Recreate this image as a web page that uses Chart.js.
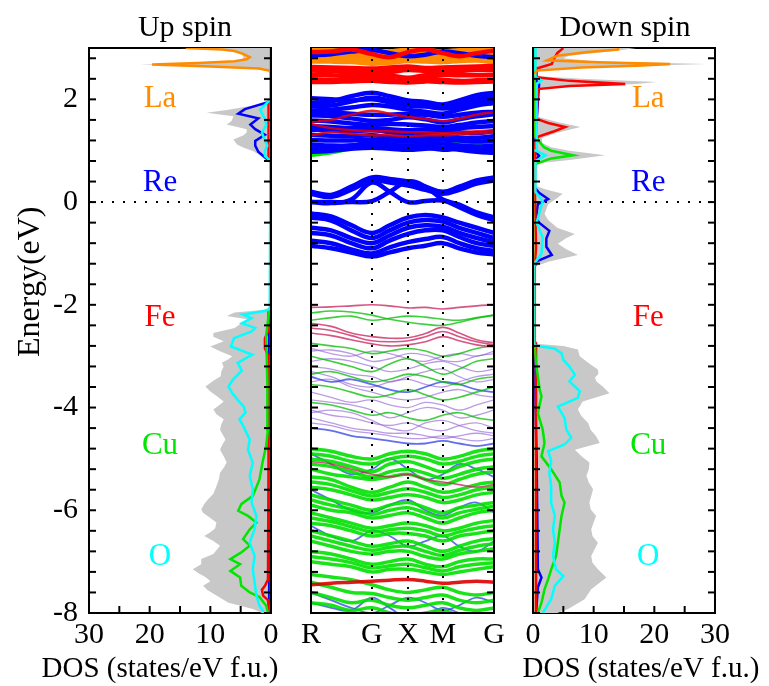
<!DOCTYPE html>
<html>
<head>
<meta charset="utf-8">
<script src="https://cdn.jsdelivr.net/npm/chart.js"></script>
<style>
  body { margin: 0; background: #fff; }
  #wrap { position: relative; width: 769px; height: 686px; }
  canvas { position: absolute; top: 0; }
</style>
</head>
<body>
<div id="wrap">
  <canvas id="upDos" width="290" height="686" style="left:0"></canvas>
  <canvas id="bands" width="226" height="686" style="left:290px"></canvas>
  <canvas id="dnDos" width="253" height="686" style="left:516px"></canvas>
</div>
<script>
// ---------------- data ----------------
const energyMin = -8;
const energyMax = 3;

const elements = ['La', 'Re', 'Fe', 'Cu', 'O'];
const elementColors = ['#ff8c00', '#0000ff', '#ff0000', '#00e600', '#00ffff'];

// k path of the band panel (fraction of the path length)
const kPath = [0, 0.11, 0.22, 0.333, 0.43, 0.53, 0.625, 0.72, 0.81, 0.905, 1.0];
const kTicks = [0, 0.333, 0.53, 0.72, 1.0];
const kLabels = ['R', 'G', 'X', 'M', 'G'];

// DOS, [energy (eV), states/eV f.u.]
const upTotal = [[-8.0,1.5],[-7.92,3.0],[-7.8,7.0],[-7.66,9.0],[-7.55,10.5],[-7.47,11.2],[-7.38,10.0],[-7.31,10.7],[-7.22,12.0],[-7.15,12.9],[-7.05,11.5],[-6.95,11.5],[-6.85,9.5],[-6.69,8.4],[-6.6,9.5],[-6.5,11.0],[-6.43,10.0],[-6.35,9.2],[-6.24,9.0],[-6.15,10.0],[-6.05,11.2],[-5.98,11.5],[-5.88,11.0],[-5.79,10.4],[-5.68,9.5],[-5.53,9.0],[-5.4,8.6],[-5.27,8.4],[-5.17,7.8],[-5.07,7.3],[-4.95,7.8],[-4.82,8.4],[-4.72,8.0],[-4.62,7.5],[-4.52,8.0],[-4.43,8.4],[-4.33,8.2],[-4.23,7.8],[-4.13,9.0],[-4.04,9.5],[-3.95,8.5],[-3.88,7.8],[-3.78,8.9],[-3.69,10.0],[-3.59,10.8],[-3.48,9.5],[-3.39,8.3],[-3.3,8.2],[-3.2,7.8],[-3.13,8.1],[-3.06,7.0],[-3.0,6.4],[-2.9,8.5],[-2.81,10.0],[-2.71,7.8],[-2.62,9.5],[-2.55,9.5],[-2.45,6.0],[-2.37,5.0],[-2.29,3.4],[-2.22,7.3],[-2.15,6.0],[-2.1,1.5],[-2.06,0.0],[0.78,0.0],[0.83,1.0],[0.92,2.0],[0.99,2.9],[1.06,4.5],[1.12,5.6],[1.22,6.2],[1.3,4.5],[1.36,4.0],[1.42,4.0],[1.51,7.3],[1.58,6.5],[1.67,6.2],[1.74,10.6],[1.8,7.0],[1.88,3.0],[1.97,0.5],[2.05,0.0],[2.5,0.0],[2.55,0.5],[2.6,3.0],[2.65,14.0],[2.68,21.6],[2.71,12.0],[2.75,5.0],[2.82,4.5],[2.9,5.0],[2.97,9.0],[3.0,15.0]];
const upLa = [[-8.0,0.0],[2.5,0.0],[2.56,0.3],[2.6,2.0],[2.64,10.0],[2.68,19.6],[2.71,12.0],[2.74,6.0],[2.78,4.0],[2.82,3.5],[2.88,4.5],[2.94,6.0],[2.97,8.0],[3.0,14.0]];
const upRe = [[-8.0,0.3],[-2.1,0.3],[-2.05,0.0],[0.78,0.0],[0.8,0.3],[0.87,1.0],[0.98,2.1],[1.1,2.6],[1.19,2.6],[1.31,1.0],[1.42,2.6],[1.51,3.4],[1.63,2.1],[1.72,5.4],[1.81,4.3],[1.94,0.6],[1.98,0.0],[3.0,0.0]];
const upFe = [[-8.0,0.3],[-7.75,0.5],[-7.66,1.3],[-7.55,1.5],[-7.47,1.0],[-7.35,0.5],[-5.0,0.4],[-3.0,0.4],[-2.85,1.0],[-2.65,1.0],[-2.5,0.4],[-2.1,0.4],[-2.05,0.0],[0.8,0.0],[0.85,0.4],[1.9,0.4],[1.95,0.0],[3.0,0.0]];
const upCu = [[-8.0,0.5],[-7.86,0.8],[-7.69,1.9],[-7.6,3.5],[-7.47,4.9],[-7.31,5.1],[-7.18,6.7],[-7.05,5.1],[-6.95,6.7],[-6.82,4.9],[-6.69,3.5],[-6.56,4.6],[-6.37,3.5],[-6.24,2.4],[-6.11,3.8],[-6.01,5.4],[-5.88,4.9],[-5.72,3.0],[-5.4,1.9],[-5.07,1.4],[-4.75,0.8],[-4.43,0.5],[-3.5,0.6],[-2.6,0.8],[-2.3,0.5],[-2.1,0.3],[-2.05,0.0],[3.0,0.0]];
const upO = [[-8.0,1.1],[-7.86,1.9],[-7.66,2.4],[-7.41,2.7],[-7.15,3.0],[-6.89,2.7],[-6.63,3.5],[-6.37,2.7],[-6.11,2.4],[-5.85,3.2],[-5.59,3.0],[-5.33,3.5],[-5.07,3.0],[-4.82,3.8],[-4.62,3.5],[-4.43,4.3],[-4.35,4.6],[-4.23,5.2],[-4.1,4.2],[-3.98,4.5],[-3.85,5.5],[-3.72,6.4],[-3.59,7.0],[-3.46,6.3],[-3.28,4.8],[-3.13,5.5],[-2.97,3.1],[-2.81,6.6],[-2.65,6.1],[-2.52,3.2],[-2.45,2.6],[-2.36,4.8],[-2.26,3.2],[-2.19,4.6],[-2.12,1.0],[-2.08,0.2],[0.8,0.1],[0.9,1.0],[1.0,1.0],[1.1,0.6],[1.2,1.0],[1.35,1.5],[1.5,0.8],[1.62,1.0],[1.8,1.8],[1.95,0.5],[2.0,0.1],[3.0,0.1]];

const dnTotal = [[-8.0,4.0],[-7.92,5.8],[-7.73,8.5],[-7.54,9.6],[-7.31,12.1],[-7.15,10.7],[-7.02,9.8],[-6.89,9.6],[-6.75,10.2],[-6.63,10.7],[-6.5,9.8],[-6.37,9.6],[-6.24,10.0],[-6.11,10.4],[-5.98,9.5],[-5.85,9.3],[-5.72,9.6],[-5.59,9.9],[-5.46,9.2],[-5.33,8.8],[-5.2,9.2],[-5.07,9.3],[-4.95,8.0],[-4.82,6.9],[-4.69,11.0],[-4.56,10.4],[-4.43,9.5],[-4.3,9.1],[-4.17,8.0],[-4.04,7.4],[-3.88,8.2],[-3.72,12.6],[-3.59,11.5],[-3.5,10.5],[-3.42,10.2],[-3.34,10.8],[-3.26,10.7],[-3.13,9.1],[-3.0,7.7],[-2.87,7.4],[-2.8,5.0],[-2.76,0.5],[-2.72,0.0],[-1.3,0.0],[-1.25,0.5],[-1.16,2.5],[-1.03,7.4],[-0.92,5.5],[-0.81,4.1],[-0.7,5.5],[-0.62,6.9],[-0.5,4.0],[-0.35,2.5],[-0.23,1.9],[-0.04,2.5],[0.08,4.0],[0.16,4.9],[0.25,2.0],[0.32,0.3],[0.36,0.0],[0.7,0.0],[0.75,0.6],[0.82,6.0],[0.91,11.9],[1.0,6.0],[1.07,3.0],[1.15,1.5],[1.25,1.5],[1.35,4.0],[1.46,7.8],[1.56,4.0],[1.66,0.8],[1.75,0.5],[2.15,0.5],[2.22,2.0],[2.3,17.0],[2.34,20.4],[2.4,8.0],[2.45,1.0],[2.52,0.5],[2.58,2.0],[2.64,15.0],[2.69,28.6],[2.74,10.0],[2.8,5.0],[2.85,6.0],[2.9,10.0],[2.95,14.0],[3.0,17.0]];
const dnLa = [[-8.0,0.0],[2.5,0.0],[2.56,0.7],[2.62,8.0],[2.66,18.0],[2.69,22.6],[2.72,12.0],[2.76,2.3],[2.85,4.0],[2.92,9.0],[2.97,14.0],[3.0,14.0]];
const dnRe = [[-8.0,0.5],[-7.5,0.8],[-7.31,1.4],[-7.15,0.8],[-5.0,0.6],[-4.0,0.4],[-2.8,0.3],[-1.3,0.2],[-1.16,0.5],[-1.03,3.1],[-0.87,2.2],[-0.71,2.2],[-0.56,2.7],[-0.4,1.0],[-0.3,0.5],[-0.04,0.8],[0.06,2.5],[0.18,1.0],[0.28,0.3],[0.8,0.3],[0.9,1.0],[1.0,0.3],[1.4,0.5],[2.3,1.0],[2.4,0.3],[3.0,0.3]];
const dnFe = [[-8.0,0.5],[-2.75,0.5],[-2.7,0.2],[-1.2,0.3],[-0.9,0.5],[0.3,0.3],[1.15,0.4],[1.27,0.8],[1.38,3.5],[1.46,5.3],[1.54,2.5],[1.62,0.6],[2.2,0.8],[2.26,6.0],[2.3,15.2],[2.36,6.0],[2.43,0.6],[2.6,0.6],[2.69,3.1],[2.8,3.5],[2.9,4.0],[3.0,5.0]];
const dnCu = [[-8.0,0.8],[-7.8,1.4],[-7.54,1.9],[-7.34,2.5],[-7.15,3.0],[-6.89,3.8],[-6.63,4.1],[-6.37,4.4],[-6.11,4.7],[-5.85,5.2],[-5.72,4.7],[-5.46,4.4],[-5.2,3.0],[-4.95,1.4],[-4.69,1.9],[-4.43,1.6],[-4.11,0.8],[-3.78,1.4],[-3.65,1.1],[-3.13,0.5],[-2.81,0.3],[-2.75,0.0],[0.7,0.0],[0.75,0.6],[0.85,3.0],[0.91,6.6],[1.0,3.0],[1.07,1.8],[1.2,0.9],[1.3,0.3],[3.0,0.3]];
const dnO = [[-8.0,1.6],[-7.73,3.0],[-7.47,3.6],[-7.28,5.0],[-7.15,3.8],[-6.89,3.3],[-6.63,3.6],[-6.37,3.3],[-6.11,3.6],[-5.85,3.0],[-5.53,3.0],[-5.27,2.7],[-5.04,3.0],[-4.85,2.5],[-4.72,5.2],[-4.59,6.3],[-4.43,5.5],[-4.2,5.2],[-3.98,4.1],[-3.81,7.4],[-3.68,7.7],[-3.49,6.0],[-3.36,6.9],[-3.2,6.0],[-3.07,5.0],[-2.94,4.7],[-2.85,3.5],[-2.8,0.5],[-2.76,0.2],[-1.2,0.2],[-1.0,1.4],[-0.69,1.6],[-0.4,0.6],[0.02,1.6],[0.2,0.4],[0.8,0.4],[0.91,2.1],[1.0,0.5],[2.3,0.6],[2.37,1.4],[2.44,0.4],[3.0,0.4]];

// bands, energies (eV) at the kPath points
const laBands = [
  [2.96,2.95,2.93,2.9,2.93,2.96,2.95,2.93,2.95,2.96,2.97],
  [2.92,2.9,2.88,2.84,2.88,2.92,2.9,2.88,2.91,2.93,2.94],
  [2.88,2.87,2.84,2.8,2.84,2.88,2.87,2.85,2.87,2.89,2.9],
  [2.8,2.8,2.78,2.74,2.77,2.8,2.79,2.78,2.8,2.82,2.8],
  [2.78,2.78,2.76,2.72,2.75,2.78,2.77,2.76,2.78,2.8,2.78],
  [2.74,2.74,2.73,2.7,2.72,2.75,2.74,2.73,2.75,2.76,2.73]
];
const feBands = [
  [2.92,2.93,2.97,2.88,2.82,2.92,2.97,2.9,2.84,2.9,2.95],
  [2.63,2.62,2.61,2.6,2.62,2.64,2.61,2.62,2.63,2.64,2.65],
  [2.58,2.6,2.58,2.56,2.58,2.6,2.58,2.58,2.6,2.6,2.6],
  [2.56,2.55,2.52,2.5,2.53,2.57,2.55,2.52,2.55,2.57,2.57],
  [2.48,2.47,2.45,2.44,2.46,2.42,2.47,2.48,2.47,2.47,2.48],
  [2.39,2.38,2.38,2.4,2.38,2.36,2.4,2.38,2.36,2.37,2.38],
  [2.34,2.34,2.35,2.36,2.34,2.33,2.35,2.34,2.33,2.34,2.35]
];
const feMid = [
  [1.56,1.6,1.7,1.78,1.72,1.66,1.62,1.58,1.62,1.7,1.75],
  [1.52,1.44,1.4,1.38,1.38,1.36,1.36,1.34,1.36,1.38,1.4],
  [1.3,1.36,1.33,1.3,1.3,1.28,1.3,1.3,1.32,1.34,1.35]
];
const reBands = [
  [2.86,2.88,2.93,2.96,2.9,2.84,2.87,2.93,2.9,2.85,2.82],
  [1.92,1.96,2.06,2.13,2.06,1.98,1.95,1.9,1.98,2.08,2.13],
  [2.02,2.0,1.98,2.0,1.94,1.88,1.86,1.82,1.86,1.94,2.0],
  [1.86,1.88,1.96,2.03,1.98,1.91,1.88,1.84,1.91,2.0,2.06],
  [1.78,1.8,1.84,1.89,1.86,1.8,1.76,1.72,1.8,1.88,1.93],
  [1.74,1.74,1.72,1.7,1.7,1.72,1.7,1.66,1.7,1.74,1.76],
  [1.69,1.67,1.63,1.58,1.6,1.65,1.61,1.55,1.61,1.67,1.71],
  [1.59,1.57,1.53,1.5,1.52,1.51,1.49,1.46,1.5,1.55,1.58],
  [1.48,1.46,1.44,1.44,1.42,1.4,1.42,1.42,1.44,1.46,1.48],
  [1.41,1.4,1.38,1.4,1.36,1.32,1.34,1.38,1.36,1.34,1.38],
  [1.31,1.29,1.28,1.3,1.26,1.24,1.26,1.28,1.26,1.25,1.28],
  [1.21,1.2,1.2,1.22,1.2,1.18,1.2,1.22,1.2,1.18,1.2],
  [1.12,1.1,1.1,1.12,1.1,1.1,1.12,1.14,1.1,1.08,1.1],
  [1.04,1.06,1.1,1.16,1.12,1.08,1.06,1.02,1.04,1.04,1.02],
  [0.98,1.0,1.04,1.06,1.04,1.02,1.04,1.06,1.02,0.98,0.96],
  [0.2,0.14,0.3,0.48,0.45,0.4,0.3,0.2,0.3,0.42,0.48],
  [0.16,0.1,0.24,0.42,0.38,0.32,0.24,0.16,0.24,0.36,0.42],
  [0.0,0.0,0.0,0.02,0.2,0.4,0.3,0.05,-0.05,-0.2,-0.3],
  [0.0,-0.02,0.05,0.38,0.2,0.0,0.02,0.03,-0.1,-0.25,-0.35],
  [-0.22,-0.28,-0.45,-0.6,-0.45,-0.3,-0.25,-0.3,-0.4,-0.5,-0.6],
  [-0.3,-0.36,-0.55,-0.7,-0.55,-0.4,-0.35,-0.38,-0.5,-0.6,-0.7],
  [-0.5,-0.55,-0.7,-0.8,-0.65,-0.5,-0.45,-0.48,-0.6,-0.7,-0.78],
  [-0.6,-0.65,-0.8,-0.9,-0.75,-0.62,-0.55,-0.55,-0.68,-0.8,-0.85],
  [-0.75,-0.8,-0.92,-1.0,-0.88,-0.78,-0.72,-0.68,-0.8,-0.9,-0.95],
  [-0.85,-0.9,-0.98,-1.06,-0.98,-0.9,-0.85,-0.8,-0.9,-0.98,-1.02]
];
const cuBands = [
  [0.92,0.97,1.05,1.1,1.12,1.12,1.1,1.08,1.1,1.05,1.0],
  [0.96,1.01,1.08,1.14,1.16,1.15,1.14,1.12,1.13,1.12,1.1]
];
const feValence = [
  [-2.05,-2.04,-2.02,-2.0,-2.02,-2.06,-2.05,-2.08,-2.05,-2.02,-2.0],
  [-2.36,-2.42,-2.55,-2.62,-2.65,-2.64,-2.56,-2.44,-2.55,-2.68,-2.74],
  [-2.45,-2.5,-2.6,-2.7,-2.72,-2.7,-2.62,-2.52,-2.62,-2.72,-2.78],
  [-2.55,-2.6,-2.68,-2.76,-2.8,-2.78,-2.72,-2.62,-2.7,-2.78,-2.82],
  [-5.05,-5.1,-5.2,-5.3,-5.35,-5.3,-5.4,-5.45,-5.5,-5.55,-5.5]
];
const feDeep = [
  [-7.45,-7.42,-7.4,-7.38,-7.36,-7.35,-7.38,-7.42,-7.4,-7.38,-7.4]
];
const cuValence = [
  [-2.16,-2.12,-2.14,-2.2,-2.28,-2.34,-2.38,-2.4,-2.34,-2.26,-2.2],
  [-2.3,-2.25,-2.22,-2.3,-2.26,-2.22,-2.24,-2.28,-2.3,-2.25,-2.2],
  [-2.75,-2.8,-2.85,-2.95,-2.9,-2.85,-2.9,-3.0,-2.95,-2.85,-2.8],
  [-3.0,-3.1,-3.2,-3.3,-3.15,-3.05,-3.2,-3.35,-3.25,-3.1,-3.05],
  [-3.35,-3.3,-3.4,-3.5,-3.45,-3.35,-3.4,-3.5,-3.55,-3.45,-3.4],
  [-3.55,-3.6,-3.7,-3.8,-3.75,-3.65,-3.75,-3.85,-3.8,-3.7,-3.6],
  [-3.9,-3.95,-4.05,-4.15,-4.1,-4.2,-4.25,-4.15,-4.1,-4.2,-4.25]
];
const mixValence = [
  [-2.85,-2.95,-3.0,-2.9,-2.95,-3.05,-3.1,-3.0,-2.95,-3.0,-2.9],
  [-2.9,-2.88,-2.95,-3.1,-3.05,-2.95,-2.98,-3.08,-3.1,-3.0,-2.95],
  [-3.1,-3.05,-3.1,-3.2,-3.3,-3.25,-3.15,-3.1,-3.2,-3.3,-3.25],
  [-3.2,-3.25,-3.35,-3.4,-3.5,-3.4,-3.3,-3.25,-3.4,-3.5,-3.45],
  [-3.3,-3.4,-3.55,-3.6,-3.5,-3.45,-3.55,-3.6,-3.5,-3.4,-3.35],
  [-3.5,-3.45,-3.6,-3.7,-3.8,-3.85,-3.8,-3.7,-3.65,-3.75,-3.8],
  [-3.7,-3.8,-3.9,-3.85,-3.95,-4.0,-3.9,-3.95,-4.05,-3.95,-3.85],
  [-3.85,-3.9,-3.95,-4.05,-4.2,-4.1,-4.0,-4.05,-4.2,-4.15,-4.05],
  [-4.05,-4.15,-4.2,-4.3,-4.35,-4.3,-4.4,-4.45,-4.35,-4.3,-4.4],
  [-4.1,-4.05,-4.1,-4.25,-4.4,-4.45,-4.3,-4.25,-4.35,-4.45,-4.5],
  [-4.2,-4.3,-4.4,-4.45,-4.5,-4.5,-4.55,-4.6,-4.55,-4.5,-4.55],
  [-4.3,-4.35,-4.45,-4.5,-4.55,-4.6,-4.6,-4.55,-4.6,-4.65,-4.6]
];
const reValence = [
  [-3.4,-3.5,-3.45,-3.55,-3.65,-3.7,-3.6,-3.5,-3.55,-3.65,-3.7],
  [-4.4,-4.45,-4.55,-4.6,-4.65,-4.7,-4.7,-4.65,-4.7,-4.75,-4.7],
  [-4.9,-5.1,-5.3,-5.2,-5.0,-5.2,-5.4,-5.3,-5.1,-5.2,-5.35],
  [-5.6,-5.8,-6.0,-6.05,-5.9,-5.8,-6.0,-6.1,-5.95,-5.85,-6.05],
  [-6.3,-6.5,-6.6,-6.4,-6.5,-6.7,-6.6,-6.5,-6.7,-6.8,-6.6],
  [-7.6,-7.75,-7.9,-8.0,-7.85,-7.7,-7.8,-7.95,-7.85,-7.7,-7.8],
  [-7.8,-7.9,-7.95,-7.7,-7.9,-8.1,-8.05,-7.9,-8.0,-8.1,-8.0]
];
const cuDeep = [
  [-4.8,-4.85,-4.95,-5.0,-4.9,-4.85,-4.9,-5.0,-4.95,-4.85,-4.8],
  [-4.9,-4.95,-5.05,-5.1,-5.0,-4.95,-5.0,-5.1,-5.05,-4.95,-4.9],
  [-5.0,-5.05,-5.15,-5.25,-5.1,-5.05,-5.15,-5.25,-5.15,-5.05,-5.0],
  [-5.1,-5.15,-5.25,-5.35,-5.25,-5.2,-5.28,-5.38,-5.3,-5.2,-5.15],
  [-5.2,-5.3,-5.35,-5.4,-5.35,-5.3,-5.4,-5.5,-5.4,-5.3,-5.25],
  [-5.35,-5.4,-5.55,-5.65,-5.55,-5.45,-5.55,-5.65,-5.6,-5.5,-5.45],
  [-5.45,-5.5,-5.62,-5.72,-5.65,-5.58,-5.65,-5.75,-5.7,-5.6,-5.55],
  [-5.55,-5.6,-5.7,-5.8,-5.75,-5.7,-5.75,-5.85,-5.8,-5.7,-5.65],
  [-5.7,-5.8,-5.9,-6.0,-5.9,-5.85,-5.95,-6.05,-5.95,-5.9,-5.85],
  [-5.8,-5.9,-5.98,-6.08,-6.0,-5.95,-6.05,-6.15,-6.05,-5.98,-5.92],
  [-5.9,-6.0,-6.05,-6.15,-6.1,-6.05,-6.15,-6.25,-6.15,-6.05,-6.0],
  [-6.05,-6.15,-6.25,-6.35,-6.3,-6.25,-6.3,-6.4,-6.35,-6.25,-6.2],
  [-6.15,-6.22,-6.32,-6.42,-6.38,-6.35,-6.4,-6.5,-6.42,-6.35,-6.3],
  [-6.25,-6.3,-6.4,-6.5,-6.45,-6.45,-6.5,-6.6,-6.5,-6.45,-6.4],
  [-6.4,-6.5,-6.6,-6.7,-6.65,-6.6,-6.7,-6.8,-6.7,-6.6,-6.55],
  [-6.5,-6.6,-6.7,-6.78,-6.72,-6.7,-6.8,-6.88,-6.78,-6.7,-6.65],
  [-6.6,-6.7,-6.8,-6.85,-6.8,-6.8,-6.9,-6.95,-6.85,-6.8,-6.75],
  [-6.8,-6.85,-6.95,-7.05,-7.0,-6.95,-7.05,-7.1,-7.0,-6.95,-6.95],
  [-6.9,-6.95,-7.02,-7.12,-7.08,-7.05,-7.12,-7.18,-7.1,-7.05,-7.02],
  [-7.0,-7.05,-7.1,-7.2,-7.15,-7.15,-7.2,-7.25,-7.2,-7.15,-7.1],
  [-7.25,-7.3,-7.35,-7.45,-7.55,-7.6,-7.55,-7.5,-7.6,-7.65,-7.6],
  [-7.4,-7.5,-7.6,-7.62,-7.7,-7.75,-7.7,-7.65,-7.75,-7.8,-7.75],
  [-7.6,-7.7,-7.8,-7.75,-7.85,-7.9,-7.85,-7.8,-7.9,-7.95,-7.9],
  [-7.8,-7.85,-7.95,-7.9,-8.0,-8.05,-8.0,-7.95,-8.05,-8.1,-8.05]
];

// label anchors: baseline energies of the element names
const tagEnergies = [1.86, 0.21, -2.41, -4.91, -7.07];

// ---------------- drawing ----------------
const serif = "'Liberation Serif', 'DejaVu Serif', serif";
Chart.defaults.font.family = serif;
Chart.defaults.color = '#000';

// panel titles, axis titles and element names
const panelText = {
  id: 'panelText',
  afterDraw(chart, args, opts) {
    const {ctx, chartArea: a, scales} = chart;
    const mid = (a.left + a.right) / 2;
    ctx.save();
    ctx.textAlign = 'center';
    ctx.textBaseline = 'alphabetic';
    ctx.fillStyle = '#000';
    if (opts.title) {
      ctx.font = '30px ' + serif;
      ctx.fillText(opts.title, mid + opts.titleShift, a.top - 12);
    }
    if (opts.xTitle) {
      ctx.font = '29px ' + serif;
      ctx.fillText(opts.xTitle, mid + opts.xTitleShift, a.bottom + 64);
    }
    if (opts.yTitle) {
      ctx.save();
      ctx.font = '32px ' + serif;
      ctx.translate(a.left - 50, scales.y.getPixelForValue(opts.yTitleEnergy));
      ctx.rotate(-Math.PI / 2);
      ctx.fillText(opts.yTitle, 0, 0);
      ctx.restore();
    }
    if (opts.tags) {
      ctx.font = '31px ' + serif;
      elements.forEach((name, i) => {
        ctx.fillStyle = elementColors[i];
        ctx.fillText(name, scales.x.getPixelForValue(opts.tagDos), scales.y.getPixelForValue(tagEnergies[i]));
      });
    }
    ctx.restore();
  }
};

// tick marks pointing into the plot area, on the scale's own ticks
const innerTicks = {
  id: 'innerTicks',
  afterDraw(chart, args, opts) {
    const {ctx, chartArea: a} = chart;
    ctx.save();
    ctx.strokeStyle = '#000';
    ctx.lineWidth = 2;
    (opts.axes || []).forEach(id => {
      const s = chart.scales[id];
      s.ticks.forEach(t => {
        const p = s.getPixelForValue(t.value);
        ctx.beginPath();
        if (s.position === 'left') { ctx.moveTo(a.left, p); ctx.lineTo(a.left + 7, p); }
        else if (s.position === 'right') { ctx.moveTo(a.right, p); ctx.lineTo(a.right - 7, p); }
        else { ctx.moveTo(p, a.bottom); ctx.lineTo(p, a.bottom - 7); }
        ctx.stroke();
      });
    });
    ctx.restore();
  }
};

const tickFont = {family: serif, size: 30};

function energyAxis(position, width, labels, zeroLine) {
  return {
    type: 'linear', position, min: energyMin, max: energyMax,
    afterFit: s => { s.width = width; },
    border: {display: true, color: '#000', width: 2, dash: [2, 9], z: 1},
    grid: {
      drawOnChartArea: zeroLine, drawTicks: false,
      color: c => (c.tick && c.tick.value === 0 ? '#000' : 'rgba(0,0,0,0)'),
      lineWidth: 2, z: 1
    },
    ticks: {
      display: labels, stepSize: 0.4, includeBounds: false, autoSkip: false,
      padding: 11, font: tickFont, color: '#000',
      callback: v => (Math.round(v * 10) % 20 === 0 ? String(Math.round(v)) : '')
    }
  };
}

function dosAxis(reverse) {
  return {
    type: 'linear', position: 'bottom', min: 0, max: 30, reverse,
    afterFit: s => { s.height = 73; },
    border: {color: '#000', width: 2},
    grid: {drawOnChartArea: false, drawTicks: false},
    ticks: {
      stepSize: 5, autoSkip: false, maxRotation: 0, padding: 4, font: tickFont, color: '#000',
      callback: v => (v % 10 === 0 ? String(v) : '')
    }
  };
}

const topAxis = {
  type: 'linear', position: 'top', min: 0, max: 1,
  afterFit: s => { s.height = 48; },
  border: {color: '#000', width: 2},
  grid: {drawOnChartArea: false, drawTicks: false},
  ticks: {display: false}
};

function dosSet(points, color, isTotal, order) {
  return {
    data: points.map(p => ({x: p[1], y: p[0]})),
    borderColor: isTotal ? 'rgba(0,0,0,0)' : color,
    backgroundColor: color,
    borderWidth: isTotal ? 0 : 2.5,
    fill: isTotal ? {value: 0} : false,
    pointRadius: 0, tension: 0, order
  };
}

function dosChart(id, sets, reverse, leftW, rightW, leftLabels, text) {
  return new Chart(document.getElementById(id), {
    type: 'line',
    data: {
      datasets: [
        dosSet(sets[0], '#c8c8c8', true, 10),
        dosSet(sets[1], elementColors[0], false, 1),
        dosSet(sets[2], elementColors[1], false, 5),
        dosSet(sets[3], elementColors[2], false, 4),
        dosSet(sets[4], elementColors[3], false, 3),
        dosSet(sets[5], elementColors[4], false, 2)
      ]
    },
    options: {
      responsive: false, animation: false, indexAxis: 'y',
      layout: {padding: 0},
      scales: {
        x: dosAxis(reverse),
        xTop: topAxis,
        y: energyAxis('left', leftW, leftLabels, true),
        yRight: energyAxis('right', rightW, false, false)
      },
      plugins: {
        legend: {display: false}, tooltip: {enabled: false},
        panelText: text,
        innerTicks: {axes: ['x', 'y', 'yRight']}
      }
    },
    plugins: [panelText, innerTicks]
  });
}

dosChart('upDos', [upTotal, upLa, upRe, upFe, upCu, upO], true, 89, 19, true, {
  title: 'Up spin', titleShift: 5,
  xTitle: 'DOS (states/eV f.u.)', xTitleShift: -20,
  yTitle: 'Energy(eV)', yTitleEnergy: -1.55,
  tags: true, tagDos: 18.3
});

dosChart('dnDos', [dnTotal, dnLa, dnRe, dnFe, dnCu, dnO], false, 17, 54, false, {
  title: 'Down spin', titleShift: 1,
  xTitle: 'DOS (states/eV f.u.)', xTitleShift: 17,
  tags: true, tagDos: 19.0
});

function bandSets(group, color, width, order) {
  return group.map(b => ({
    data: b.map((e, i) => ({x: kPath[i], y: e})),
    borderColor: color, borderWidth: width,
    pointRadius: 0, tension: 0.4, fill: false, order
  }));
}

new Chart(document.getElementById('bands'), {
  type: 'line',
  data: {
    datasets: [
      ...bandSets(mixValence, 'rgba(140,90,210,0.6)', 1.3, 9),
      ...bandSets(cuValence, 'rgba(0,190,0,0.75)', 1.6, 8),
      ...bandSets(reValence, 'rgba(30,50,230,0.7)', 1.8, 8),
      ...bandSets(cuDeep, 'rgba(0,225,0,0.9)', 3.5, 7),
      ...bandSets(feValence, 'rgba(200,30,90,0.75)', 1.6, 6),
      ...bandSets(feDeep, 'rgba(220,0,0,0.9)', 3.5, 5),
      ...bandSets(laBands, elementColors[0], 5, 4),
      ...bandSets(cuBands, elementColors[3], 4.5, 3),
      ...bandSets(reBands, elementColors[1], 4.5, 2),
      ...bandSets(feBands, elementColors[2], 4.5, 1),
      ...bandSets(feMid, 'rgba(230,0,0,0.85)', 2.5, 1)
    ]
  },
  options: {
    responsive: false, animation: false,
    layout: {padding: 0},
    scales: {
      x: {
        type: 'linear', position: 'bottom', min: 0, max: 1,
        afterBuildTicks: s => { s.ticks = kTicks.map(v => ({value: v})); },
        afterFit: s => { s.height = 73; },
        border: {color: '#000', width: 2, dash: [2, 9], z: 1},
        grid: {
          color: c => (c.tick && c.tick.value > 0 && c.tick.value < 1 ? '#000' : 'rgba(0,0,0,0)'),
          lineWidth: 2, drawTicks: false, z: 1
        },
        ticks: {
          autoSkip: false, maxRotation: 0, padding: 4, font: tickFont, color: '#000',
          callback: (v, i) => kLabels[i]
        }
      },
      xTop: topAxis,
      y: energyAxis('left', 21, false, true),
      yRight: energyAxis('right', 22, false, false)
    },
    plugins: {
      legend: {display: false}, tooltip: {enabled: false},
      innerTicks: {axes: ['y', 'yRight']}
    }
  },
  plugins: [innerTicks]
});
</script>
</body>
</html>
